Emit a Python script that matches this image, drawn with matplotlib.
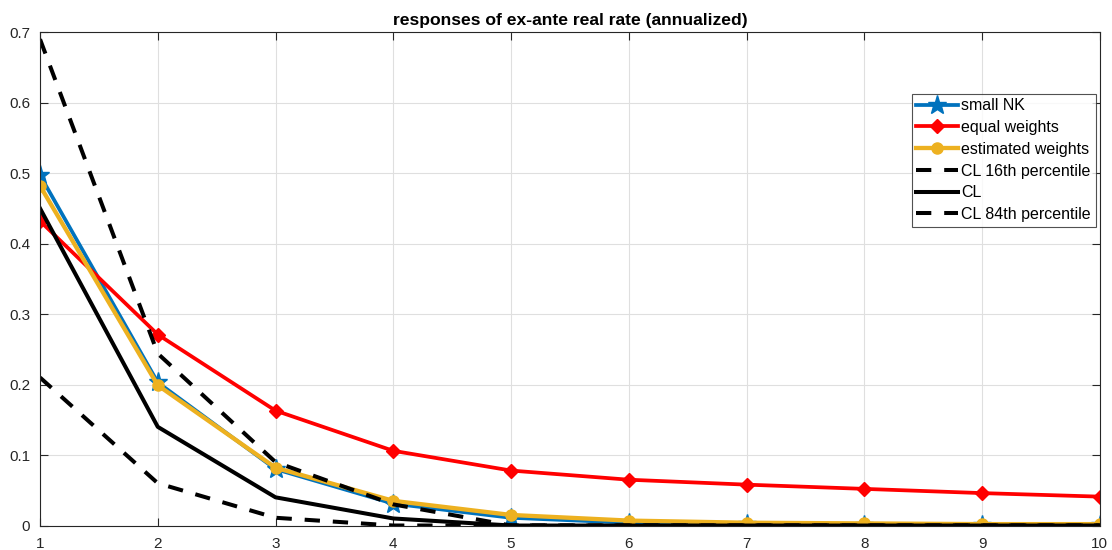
import matplotlib
matplotlib.use("Agg")
import matplotlib.pyplot as plt
import numpy as np

plt.rcParams['font.family'] = ['Liberation Sans', 'DejaVu Sans']

horizon = [1, 2, 3, 4, 5, 6, 7, 8, 9, 10]
small_nk = [0.497, 0.203, 0.080, 0.031, 0.011, 0.004, 0.0015, 0.0006, 0.0003, 0.0001]
equal_w = [0.432, 0.271, 0.163, 0.106, 0.078, 0.065, 0.058, 0.052, 0.046, 0.041]
est_w = [0.482, 0.199, 0.082, 0.035, 0.015, 0.007, 0.004, 0.003, 0.002, 0.002]
cl_16 = [0.690, 0.244, 0.090, 0.030, 0.000, 0.000, 0.000, 0.000, 0.000, 0.000]
cl_mid = [0.450, 0.140, 0.040, 0.010, 0.000, 0.000, 0.000, 0.000, 0.000, 0.000]
cl_84 = [0.210, 0.060, 0.011, 0.000, 0.000, 0.000, 0.000, 0.000, 0.000, 0.000]

fig = plt.figure(figsize=(11.12, 5.5), dpi=100)
ax = fig.add_axes([0.036, 0.0445, 0.953, 0.897])

lw = 2.7
ax.plot(horizon, small_nk, color='#0072BD', lw=lw, marker='*', ms=14, label='small NK')
ax.plot(horizon, equal_w, color='#FF0000', lw=lw, marker='D', ms=7.5, label='equal weights')
ax.plot(horizon, est_w, color='#EDB120', lw=lw + 0.4, marker='o', ms=8, label='estimated weights')
ax.plot(horizon, cl_16, color='black', lw=lw + 0.2, ls=(0, (3.8, 3.2)), label='CL 16th percentile')
ax.plot(horizon, cl_mid, color='black', lw=lw + 0.2, label='CL')
ax.plot(horizon, cl_84, color='black', lw=lw + 0.2, ls=(0, (3.8, 3.2)), label='CL 84th percentile')

ax.set_xlim(1, 10)
ax.set_ylim(0, 0.7)
ax.set_xticks(horizon)
ax.set_yticks([0, 0.1, 0.2, 0.3, 0.4, 0.5, 0.6, 0.7])
ax.set_yticklabels(['0', '0.1', '0.2', '0.3', '0.4', '0.5', '0.6', '0.7'])
ax.grid(True, color='#DFDFDF', lw=0.8)
ax.set_axisbelow(True)
ax.tick_params(direction='in', top=True, right=True, labelsize=11, colors='#262626', length=6, width=0.8)
ax.tick_params(axis='x', pad=8)
ax.tick_params(axis='y', pad=7)
for s in ax.spines.values():
    s.set_color('#262626')
    s.set_linewidth(0.8)
ax.set_title('responses of ex-ante real rate (annualized)', fontsize=12.6, fontweight='bold', pad=5)

leg = ax.legend(loc='upper right', bbox_to_anchor=(0.999, 0.882), fontsize=11.5, frameon=True,
                fancybox=False, edgecolor='#262626', handlelength=2.6, handletextpad=0.2,
                borderpad=0.3, labelspacing=0.42, borderaxespad=0.2)
leg.get_frame().set_linewidth(0.8)

fig.savefig('out.png', dpi=100)
